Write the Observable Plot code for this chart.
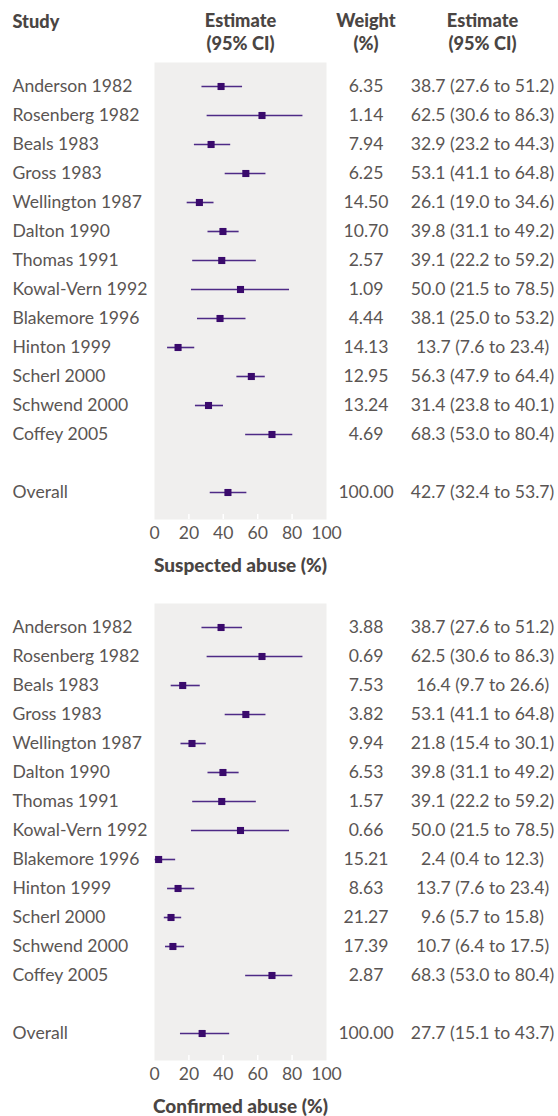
<!DOCTYPE html>
<html>
<head>
<meta charset="utf-8">
<script src="https://cdn.jsdelivr.net/npm/d3@7"></script>
<script src="https://cdn.jsdelivr.net/npm/@observablehq/plot@0.6"></script>
<style>
  html, body { margin: 0; padding: 0; background: #ffffff; }
  #chart svg { display: block; }
</style>
</head>
<body>
<div id="chart"></div>
<script>
// ---- data ----
const studies = ["Anderson 1982", "Rosenberg 1982", "Beals 1983", "Gross 1983", "Wellington 1987",
  "Dalton 1990", "Thomas 1991", "Kowal-Vern 1992", "Blakemore 1996", "Hinton 1999",
  "Scherl 2000", "Schwend 2000", "Coffey 2005"];
const overallLabel = "Overall";

const suspectedEst = [38.7, 62.5, 32.9, 53.1, 26.1, 39.8, 39.1, 50.0, 38.1, 13.7, 56.3, 31.4, 68.3];
const suspectedLo  = [27.6, 30.6, 23.2, 41.1, 19.0, 31.1, 22.2, 21.5, 25.0, 7.6, 47.9, 23.8, 53.0];
const suspectedHi  = [51.2, 86.3, 44.3, 64.8, 34.6, 49.2, 59.2, 78.5, 53.2, 23.4, 64.4, 40.1, 80.4];
const suspectedWeight = [6.35, 1.14, 7.94, 6.25, 14.50, 10.70, 2.57, 1.09, 4.44, 14.13, 12.95, 13.24, 4.69];
const suspectedOverall = [42.7, 32.4, 53.7, 100.00];

const confirmedEst = [38.7, 62.5, 16.4, 53.1, 21.8, 39.8, 39.1, 50.0, 2.4, 13.7, 9.6, 10.7, 68.3];
const confirmedLo  = [27.6, 30.6, 9.7, 41.1, 15.4, 31.1, 22.2, 21.5, 0.4, 7.6, 5.7, 6.4, 53.0];
const confirmedHi  = [51.2, 86.3, 26.6, 64.8, 30.1, 49.2, 59.2, 78.5, 12.3, 23.4, 15.8, 17.5, 80.4];
const confirmedWeight = [3.88, 0.69, 7.53, 3.82, 9.94, 6.53, 1.57, 0.66, 15.21, 8.63, 21.27, 17.39, 2.87];
const confirmedOverall = [27.7, 15.1, 43.7, 100.00];

const xTicks = [0, 20, 40, 60, 80, 100];
const innerTicks = [20, 40, 60, 80];
const headers = {study: "Study", est: "Estimate\n(95% CI)", weight: "Weight\n(%)", estText: "Estimate\n(95% CI)"};
const axisTitles = ["Suspected abuse (%)", "Confirmed abuse (%)"];

// ---- build ----
const spacer = " ";
const rowKeys = [...studies, spacer, overallLabel];

function rows(est, lo, hi, w, ov) {
  const r = studies.map((s, i) => ({key: s, est: est[i], lo: lo[i], hi: hi[i], weight: w[i]}));
  r.push({key: overallLabel, est: ov[0], lo: ov[1], hi: ov[2], weight: ov[3]});
  return r;
}
const fmtCI = d => `${d.est.toFixed(1)} (${d.lo.toFixed(1)} to ${d.hi.toFixed(1)})`;

const textColor = "#5a5553";
const headColor = "#4a4543";
const band = "#f0efee";
const markColor = "#3a0a6c";
const lineColor = "#4e2a86";
const font = "Lato, 'Open Sans', sans-serif";
const bodySize = 17.6;
const headSize = 18.2;
const titleSize = 19;

function panel(data, title, withHeader, height, mTop, mBottom) {
  const headStyle = {fill: headColor, fontSize: headSize, fontWeight: 900, lineHeight: 1.25};
  const marks = [
    Plot.frame({fill: band, stroke: null}),
    Plot.tickX(innerTicks, {x: d => d, stroke: "#ffffff", strokeWidth: 1.5, insetTop: 452}),
    Plot.axisX({ticks: xTicks, tickSize: 0, tickPadding: 7, label: null, tickFormat: d => String(d), fontSize: bodySize, fill: textColor}),
    Plot.ruleY(data, {y: "key", x1: "lo", x2: "hi", stroke: lineColor, strokeWidth: 1.6}),
    Plot.dot(data, {x: "est", y: "key", symbol: "square", r: 4, fill: markColor, stroke: null}),
    Plot.text(data, {y: "key", text: "key", frameAnchor: "left", dx: -142, textAnchor: "start", fill: textColor, fontSize: bodySize}),
    Plot.text(data, {y: "key", text: d => d.weight.toFixed(2), frameAnchor: "right", dx: 39.5, textAnchor: "middle", fill: textColor, fontSize: bodySize}),
    Plot.text(data, {y: "key", text: fmtCI, frameAnchor: "right", dx: 156, textAnchor: "middle", fill: textColor, fontSize: bodySize}),
    Plot.text([title], {frameAnchor: "bottom", dy: 46, textAnchor: "middle", lineAnchor: "middle", fill: headColor, fontSize: titleSize, fontWeight: 900})
  ];
  if (withHeader) {
    marks.push(
      Plot.text([headers.study], {frameAnchor: "top-left", dx: -142, dy: -42, textAnchor: "start", lineAnchor: "middle", ...headStyle}),
      Plot.text([headers.est], {frameAnchor: "top", dy: -31, textAnchor: "middle", lineAnchor: "middle", ...headStyle}),
      Plot.text([headers.weight], {frameAnchor: "top-right", dx: 39.5, dy: -31, textAnchor: "middle", lineAnchor: "middle", ...headStyle}),
      Plot.text([headers.estText], {frameAnchor: "top-right", dx: 156, dy: -31, textAnchor: "middle", lineAnchor: "middle", ...headStyle})
    );
  }
  return Plot.plot({
    width: 558,
    height,
    marginTop: mTop,
    marginBottom: mBottom,
    marginLeft: 154,
    marginRight: 232,
    style: {fontFamily: font, fontSize: bodySize + "px", color: textColor, background: "transparent", overflow: "visible"},
    x: {domain: [0, 100]},
    y: {type: "point", domain: rowKeys, padding: 0, insetTop: 21.5, insetBottom: 25, axis: null},
    marks
  });
}

const chart = document.getElementById("chart");
chart.append(panel(rows(suspectedEst, suspectedLo, suspectedHi, suspectedWeight, suspectedOverall), axisTitles[0], true, 580, 62, 61));
chart.append(panel(rows(confirmedEst, confirmedLo, confirmedHi, confirmedWeight, confirmedOverall), axisTitles[1], false, 536, 23, 56));
</script>
</body>
</html>
